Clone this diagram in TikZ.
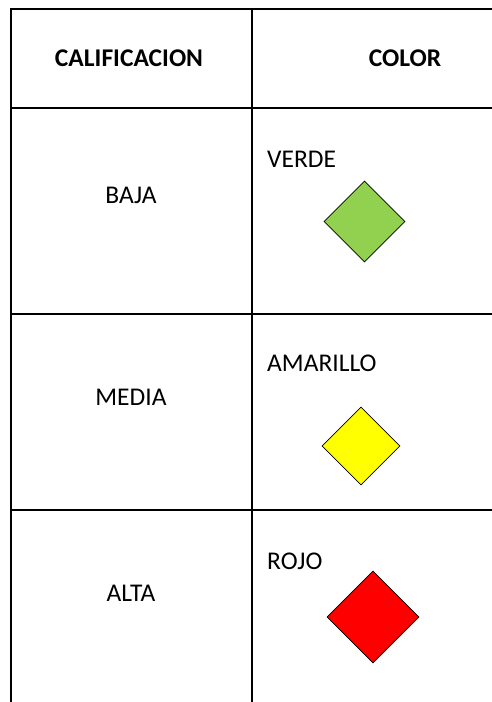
\documentclass[tikz,border=0pt]{standalone}
\usepackage{fontspec}
\setmainfont{Carlito}
\usetikzlibrary{shapes.geometric}
\definecolor{verde}{HTML}{92D050}
\definecolor{amarillo}{HTML}{FFFF00}
\definecolor{rojo}{HTML}{FF0000}
\tikzset{
  grid/.style={line width=2.6pt, line cap=rect},
  head/.style={font=\fontsize{25.5}{30}\selectfont\bfseries, inner sep=0pt},
  cell/.style={font=\fontsize{25.5}{30}\selectfont, inner sep=0pt},
  lbl/.style={font=\fontsize{25.5}{30}\selectfont, inner sep=0pt, anchor=west},
  gem/.style={diamond, draw=black, line width=0.7pt, inner sep=0pt, aspect=1},
}
\begin{document}
\begin{tikzpicture}[x=1pt,y=-1pt]
\useasboundingbox (0,0) rectangle (491,702);
% grid
\coordinate (tl) at (11,9);
\coordinate (tr) at (491,9);
\coordinate (tm) at (252,9);
\coordinate (bl) at (11,702);
\coordinate (bm) at (252,702);
\coordinate (h1l) at (11,108);
\coordinate (h1r) at (491,108);
\coordinate (h2l) at (11,314);
\coordinate (h2r) at (491,314);
\coordinate (h3l) at (11,510);
\coordinate (h3r) at (491,510);
\draw[grid] (tl) -- (tr);
\draw[grid] (h1l) -- (h1r);
\draw[grid] (h2l) -- (h2r);
\draw[grid] (h3l) -- (h3r);
\draw[grid, line cap=butt] (tl) -- (bl);
\draw[grid, line cap=butt] (tm) -- (bm);
% header
\node[head] (hcal) at (129,58.5) {CALIFICACION};
\node[head] (hcol) at (405,58.5) {COLOR};
% rows
\node[cell] (baja) at (131,195) {BAJA};
\node[cell] (media) at (131,397) {MEDIA};
\node[cell] (alta) at (131,593) {ALTA};
\node[lbl] (lverde) at (267,159.5) {VERDE};
\node[lbl] (lamar) at (267,363.5) {AMARILLO};
\node[lbl] (lrojo) at (267,561) {ROJO};
% diamonds
\node[gem, fill=verde, minimum width=81pt, minimum height=81pt] (dverde) at (364.5,221.5) {};
\node[gem, fill=amarillo, minimum width=78pt, minimum height=78pt] (damar) at (361,446) {};
\node[gem, fill=rojo, minimum width=92pt, minimum height=92pt] (drojo) at (373,617) {};
\end{tikzpicture}
\end{document}
